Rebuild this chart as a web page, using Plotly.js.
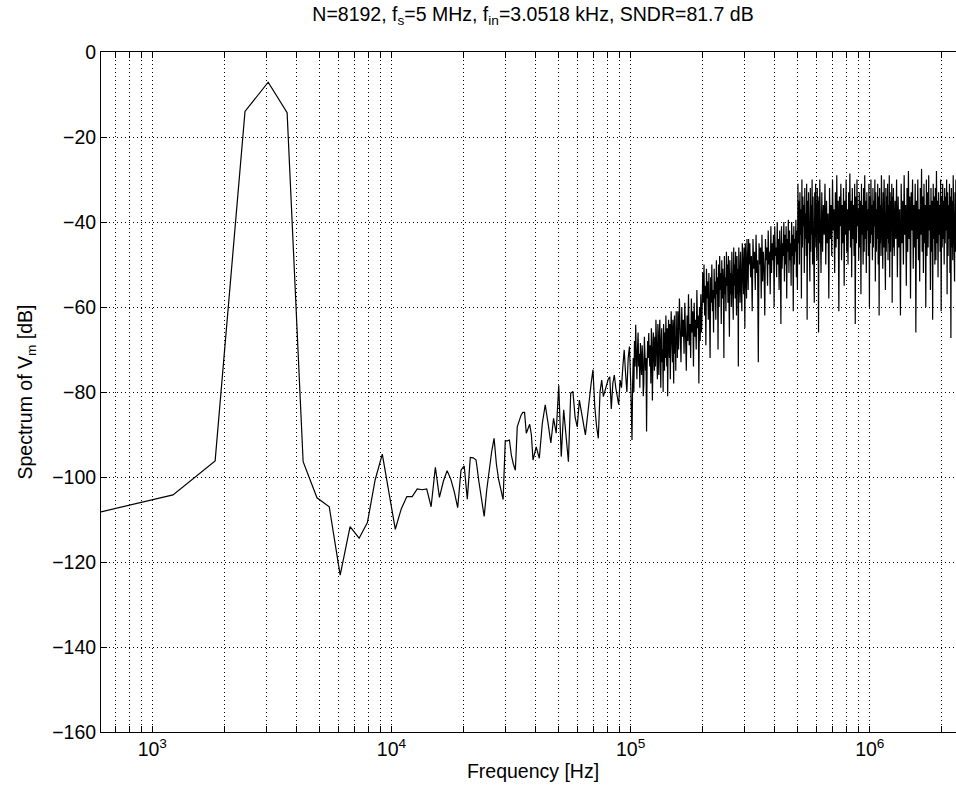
<!DOCTYPE html>
<html>
<head>
<meta charset="utf-8">
<script src="https://cdn.plot.ly/plotly-3.0.1.min.js"></script>
<style>
  html, body { margin: 0; padding: 0; background: #fff; overflow: hidden; }
  #chart { width: 966px; height: 793px; }
</style>
</head>
<body>
<div id="chart"></div>
<script>
// FFT setup
const fsHz = 5e6;
const nPoints = 8192;

// Spectrum, in segments of FFT bins (first bin, bin step)
const binFirst = [1, 66, 165, 258, 516, 1032, 2056];
const binStep  = [1, 2, 1, 2, 4, 8, 16];

const specDb1 = [-108.2, -104.2, -96.2, -14.0, -7.1, -14.3, -96.4, -104.9, -107.0, -123.1,
  -111.7, -114.4, -110.7, -100.7, -94.6, -104.0, -112.3, -107.5, -104.6, -104.6,
  -102.8, -103.0, -102.8, -107.0, -97.7, -104.8, -101.0, -98.5, -100.5, -103.5,
  -107.2, -98.4, -97.4, -105.2, -95.4, -95.5, -96.0, -101.0, -105.0, -109.3,
  -103.0, -97.7, -94.0, -90.9, -97.0, -100.7, -103.0, -105.3, -91.5, -91.5,
  -91.3, -95.0, -97.0, -98.4, -88.2, -86.5, -85.5, -84.8, -84.8, -89.7,
  -88.5, -87.6, -90.0, -96.0];

const specDb2 = [-92.9, -95.6, -87.4, -83.0, -87.4, -92.0, -86.2, -89.7, -78.4, -95.2,
  -84.2, -91.3, -96.4, -80.3, -79.9, -86, -88.2, -81.9, -85, -87.4,
  -90.1, -86, -81.1, -78, -74.8, -83.5, -88, -90.9, -80, -77.2,
  -81.1, -79.5, -78, -77, -76.4, -84, -78, -76, -79, -81.1,
  -83, -77.2, -79, -74, -70.1, -75.6, -80, -72, -69.3, -78];

const specDb2b = [-84, -91.3, -78, -72, -80, -68, -74, -64.2, -71, -77, -70, -66, -74, -71, -79, -68.5,
  -73, -76, -69, -72, -81, -78, -67, -70, -75, -72, -89.3, -74, -68, -72, -66.1, -71,
  -74, -69, -78, -65, -68, -82, -72, -66, -70, -75, -67, -74, -63, -71, -70, -77,
  -64, -72, -76, -66, -63, -71, -79, -68, -65, -73, -70, -80, -64, -68, -75, -66,
  -72, -62, -69, -74, -65, -81, -70, -63, -67, -72, -64, -77, -69, -61, -70, -66,
  -73, -63, -68, -78, -64, -62, -71, -67, -75, -61, -69, -65, -72];

const specDb3 = [-61, -70, -58, -66, -73, -60, -67, -63, -71, -59, -65, -75, -62, -68, -57, -69,
  -64, -72, -58, -66, -61, -74, -59, -67, -63, -70, -56, -65, -62, -78, -60, -68,
  -57, -66, -61, -52, -59, -50, -62, -55, -69, -51, -58, -54, -63, -52, -60, -72,
  -53, -59, -50, -61, -56, -66, -51, -58, -54, -63, -49, -57, -53, -70, -50, -60,
  -48, -56, -52, -64, -49, -58, -51, -55, -72, -48, -57, -53, -61, -47, -55, -50,
  -59, -48, -54, -67, -49, -57, -52, -60, -47, -56, -51, -63, -46, -55, -50, -58,
  -47, -54, -62, -48, -57, -51, -74, -46, -55, -50, -59, -47, -53, -49, -61, -45,
  -54, -48, -57, -46, -52, -65, -45, -53, -49, -58, -44, -51, -47, -56, -44, -50];

const specDb4 = [-45, -53, -48, -61, -44, -51, -47, -56, -43, -52, -49, -73, -45, -50, -46, -58,
  -43, -54, -47, -51, -62, -44, -49, -46, -55, -42, -50, -47, -57, -41, -52, -45,
  -49, -43, -60, -41, -48, -46, -53, -40, -50, -44, -56, -42, -47, -64, -41, -51,
  -45, -48, -40, -54, -43, -50, -41, -58, -44, -47, -39.5, -52, -42, -49, -45, -55,
  -40, -48, -43, -61, -41, -50, -44, -47, -39.5, -53, -42, -56, -31, -45, -35, -50,
  -33, -43, -37, -58, -30, -46, -34, -41, -36, -52, -32, -44, -38, -48, -31, -63,
  -35, -45, -33, -40, -37, -54, -32, -47, -36, -43, -30, -50, -34, -42, -38, -59,
  -33, -46, -31, -44, -36, -49, -32, -41, -35, -66, -34, -45, -30, -47, -37, -52];

const specDb5 = [-33, -47, -36, -43, -31, -50, -35, -45, -38, -58, -32, -44, -36, -48, -30, -42,
  -37, -52, -33, -46, -29, -44, -35, -61, -34, -41, -31, -49, -36, -45, -32, -55,
  -35, -43, -30, -47, -37, -50, -33, -42, -28.6, -46, -35, -53, -32, -44, -36, -48,
  -31, -64, -34, -45, -30, -41, -37, -49, -33, -46, -35, -57, -31, -43, -36, -50,
  -32, -47, -29, -44, -35, -52, -33, -42, -37, -48, -31, -60, -34, -45, -30, -43,
  -36, -49, -32, -46, -35, -41, -30, -54, -33, -47, -37, -44, -31, -50, -34, -62,
  -32, -45, -36, -48, -29, -43, -35, -51, -33, -46, -30, -42, -37, -56, -32, -47,
  -34, -44, -31, -49, -36, -45, -29, -53, -33, -47, -35, -42, -31, -59, -34, -46];

const specDb6 = [-32, -48, -35, -44, -30, -53, -34, -46, -37, -62, -31, -45, -35, -50, -29, -43,
  -36, -55, -32, -47, -28, -44, -34, -58, -33, -42, -30, -51, -36, -46, -31, -66,
  -35, -44, -30, -49, -37, -54, -32, -43, -27.5, -47, -34, -52, -31, -45, -36, -60,
  -30, -48, -33, -46, -29, -42, -36, -56, -32, -47, -35, -63, -31, -44, -34, -50,
  -32, -49, -28, -45, -35, -53, -33, -43, -36, -47, -30, -61, -34, -46, -31, -44,
  -35, -50, -32, -45, -34, -42, -30, -57, -33, -48, -36, -44, -31, -52, -34, -67.3,
  -32, -46, -35, -49, -29, -44, -34, -54, -33, -47, -30, -43, -36, -59, -32, -48,
  -34, -45, -31, -50, -35, -46, -28, -55, -33, -48, -35, -43, -30, -64, -34, -47];

const xMajorVals = [1e3, 1e4, 1e5, 1e6];
const xMajorText = ['10<sup>3</sup>', '10<sup>4</sup>', '10<sup>5</sup>', '10<sup>6</sup>'];
const xMinorVals = [700, 800, 900, 2e3, 3e3, 4e3, 5e3, 6e3, 7e3, 8e3, 9e3,
  2e4, 3e4, 4e4, 5e4, 6e4, 7e4, 8e4, 9e4,
  2e5, 3e5, 4e5, 5e5, 6e5, 7e5, 8e5, 9e5, 2e6];
const yTickVals = [-160, -140, -120, -100, -80, -60, -40, -20, 0];

const titleText = 'N=8192, f<sub>s</sub>=5 MHz, f<sub>in</sub>=3.0518 kHz, SNDR=81.7 dB';
const xTitle = 'Frequency [Hz]';
const yTitle = 'Spectrum of V<sub>m</sub> [dB]';

// Build the trace from the segments
const segs = [specDb1, specDb2, specDb2b, specDb3, specDb4, specDb5, specDb6];
const freq = [], mag = [];
segs.forEach((vals, s) => {
  vals.forEach((v, i) => {
    freq.push((binFirst[s] + i * binStep[s]) * fsHz / nPoints);
    mag.push(v);
  });
});

const font = { family: '"Liberation Sans", Arial, Helvetica, sans-serif', size: 19.5, color: '#000' };
const gridDash = '1px,3px';

const axisCommon = {
  showline: true, linecolor: '#000', linewidth: 1, mirror: 'allticks',
  ticks: 'inside', ticklen: 6, tickwidth: 1, tickcolor: '#000',
  showgrid: true, gridcolor: '#000', gridwidth: 1, griddash: gridDash,
  zeroline: false, tickfont: font
};

const layout = {
  width: 966, height: 793,
  margin: { l: 101, r: 1, t: 52, b: 61 },
  paper_bgcolor: '#fff', plot_bgcolor: '#fff',
  font: font,
  showlegend: false,
  hovermode: false,
  title: { text: titleText, font: font, x: 0.5, xref: 'paper', xanchor: 'center',
           y: 1 - 14 / 793, yref: 'container', yanchor: 'middle' },
  xaxis: Object.assign({}, axisCommon, {
    type: 'log',
    range: [Math.log10(fsHz / nPoints), Math.log10(fsHz / 2)],
    tickmode: 'array', tickvals: xMajorVals, ticktext: xMajorText,
    minor: { tickmode: 'array', tickvals: xMinorVals, ticks: 'inside', ticklen: 6,
             tickcolor: '#000', showgrid: true, gridcolor: '#000', gridwidth: 1, griddash: gridDash },
    title: { text: xTitle, font: font, standoff: 4 }
  }),
  yaxis: Object.assign({}, axisCommon, {
    range: [-160, 0],
    tickmode: 'array', tickvals: yTickVals,
    title: { text: yTitle, font: font, standoff: 14 }
  })
};

Plotly.newPlot('chart', [{
  type: 'scatter', mode: 'lines', x: freq, y: mag,
  line: { color: '#000', width: 1.2 }
}], layout, { staticPlot: true, displayModeBar: false });
</script>
</body>
</html>
